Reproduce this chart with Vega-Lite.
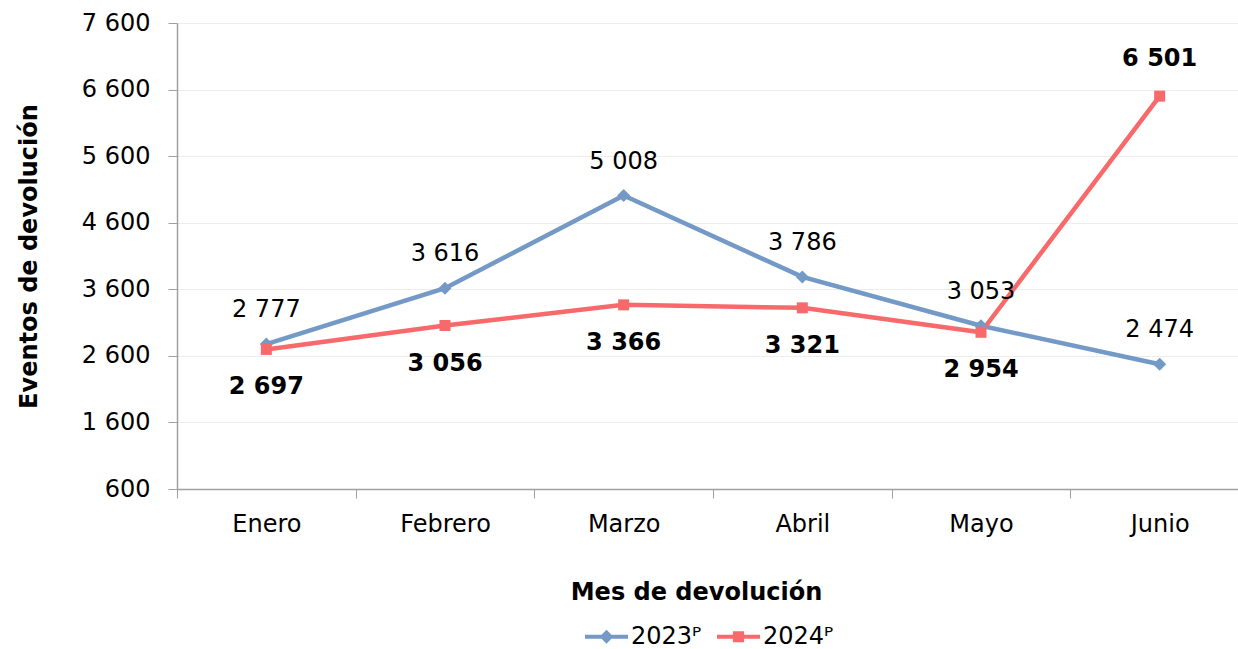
{
  "$schema": "https://vega.github.io/schema/vega-lite/v6.json",
  "autosize": {"type": "none"},
  "padding": {"left": 177, "top": 23, "right": 0, "bottom": 160},
  "width": 1072,
  "height": 466,
  "background": "white",
  "config": {
    "view": {"stroke": null},
    "font": "DejaVu Sans",
    "locale": {"number": {"decimal": ".", "thousands": " ", "grouping": [3], "currency": ["$", ""]}},
    "axis": {"labelFont": "DejaVu Sans", "titleFont": "DejaVu Sans", "labelColor": "#000", "titleColor": "#000"}
  },
  "data": {
    "values": [
      {"mes": "Enero", "serie": "2023ᴾ", "v": 2777},
      {"mes": "Febrero", "serie": "2023ᴾ", "v": 3616},
      {"mes": "Marzo", "serie": "2023ᴾ", "v": 5008},
      {"mes": "Abril", "serie": "2023ᴾ", "v": 3786},
      {"mes": "Mayo", "serie": "2023ᴾ", "v": 3053},
      {"mes": "Junio", "serie": "2023ᴾ", "v": 2474},
      {"mes": "Enero", "serie": "2024ᴾ", "v": 2697},
      {"mes": "Febrero", "serie": "2024ᴾ", "v": 3056},
      {"mes": "Marzo", "serie": "2024ᴾ", "v": 3366},
      {"mes": "Abril", "serie": "2024ᴾ", "v": 3321},
      {"mes": "Mayo", "serie": "2024ᴾ", "v": 2954},
      {"mes": "Junio", "serie": "2024ᴾ", "v": 6501}
    ]
  },
  "encoding": {
    "x": {
      "field": "mes", "type": "nominal",
      "sort": ["Enero", "Febrero", "Marzo", "Abril", "Mayo", "Junio"],
      "scale": {"type": "band", "paddingInner": 0, "paddingOuter": 0},
      "axis": {
        "title": "Mes de devolución", "titleFontSize": 24, "titleFontWeight": "bold",
        "titlePadding": 44, "titleX": 519,
        "labelFontSize": 24, "labelAngle": 0, "labelPadding": 14,
        "tickBand": "extent", "tickSize": 9, "tickColor": "#a0a0a0",
        "domainColor": "#a0a0a0", "domainWidth": 1.5, "grid": false
      }
    },
    "y": {
      "field": "v", "type": "quantitative",
      "scale": {"domain": [600, 7600], "nice": false, "zero": false},
      "axis": {
        "title": "Eventos de devolución", "titleFontSize": 24, "titleFontWeight": "bold",
        "titlePadding": 40,
        "values": [600, 1600, 2600, 3600, 4600, 5600, 6600, 7600],
        "format": ",d",
        "labelFontSize": 24, "labelPadding": 18,
        "tickSize": 9, "tickColor": "#a0a0a0",
        "domainColor": "#a0a0a0", "domainWidth": 1.5,
        "grid": true, "gridColor": "#ededed", "gridWidth": 1
      }
    }
  },
  "layer": [
    {
      "transform": [{"filter": "datum.serie === '2023ᴾ'"}],
      "mark": {"type": "line", "strokeWidth": 4.5, "color": "#7399c6"},
      "encoding": {}
    },
    {
      "transform": [{"filter": "datum.serie === '2024ᴾ'"}],
      "mark": {"type": "line", "strokeWidth": 4.5, "color": "#f8696b"},
      "encoding": {}
    },
    {
      "transform": [{"filter": "datum.serie === '2023ᴾ'"}],
      "mark": {"type": "point", "filled": true, "opacity": 1, "shape": "diamond", "size": 170, "color": "#7399c6"},
      "encoding": {}
    },
    {
      "transform": [{"filter": "datum.serie === '2024ᴾ'"}],
      "mark": {"type": "point", "filled": true, "opacity": 1, "shape": "square", "size": 121, "color": "#f8696b"},
      "encoding": {}
    },
    {
      "mark": {"type": "point", "filled": true, "opacity": 0},
      "encoding": {
        "color": {
          "field": "serie", "type": "nominal",
          "scale": {"domain": ["2023ᴾ", "2024ᴾ"], "range": ["#7399c6", "#f8696b"]},
          "legend": {
            "title": null, "orient": "none", "legendX": 408, "legendY": 592,
            "direction": "horizontal",
            "labelFontSize": 24, "labelFont": "DejaVu Sans", "labelColor": "#000",
            "symbolSize": 1849, "symbolStrokeWidth": 0, "symbolOpacity": 1,
            "labelOffset": 3, "columnPadding": 15
          }
        },
        "shape": {
          "field": "serie", "type": "nominal",
          "scale": {
            "domain": ["2023ᴾ", "2024ᴾ"],
            "range": [
              "M-1,-0.09L1,-0.09L1,0.09L-1,0.09Z M0,-0.32L0.32,0L0,0.32L-0.32,0Z",
              "M-1,-0.09L1,-0.09L1,0.09L-1,0.09Z M-0.26,-0.26L0.26,-0.26L0.26,0.26L-0.26,0.26Z"
            ]
          },
          "legend": {
            "title": null, "orient": "none", "legendX": 408, "legendY": 592,
            "direction": "horizontal",
            "labelFontSize": 24, "labelFont": "DejaVu Sans", "labelColor": "#000",
            "symbolSize": 1849, "symbolStrokeWidth": 0, "symbolOpacity": 1,
            "labelOffset": 3, "columnPadding": 15
          }
        }
      }
    },
    {
      "transform": [{"filter": "datum.serie === '2023ᴾ'"}],
      "mark": {"type": "text", "dy": -34, "fontSize": 24, "color": "#000"},
      "encoding": {"text": {"field": "v", "type": "quantitative", "format": ",d"}}
    },
    {
      "transform": [{"filter": "datum.serie === '2024ᴾ' && datum.mes !== 'Junio'"}],
      "mark": {"type": "text", "dy": 38, "fontSize": 24, "fontWeight": "bold", "color": "#000"},
      "encoding": {"text": {"field": "v", "type": "quantitative", "format": ",d"}}
    },
    {
      "transform": [{"filter": "datum.serie === '2024ᴾ' && datum.mes === 'Junio'"}],
      "mark": {"type": "text", "dy": -37, "fontSize": 24, "fontWeight": "bold", "color": "#000"},
      "encoding": {"text": {"field": "v", "type": "quantitative", "format": ",d"}}
    }
  ]
}
